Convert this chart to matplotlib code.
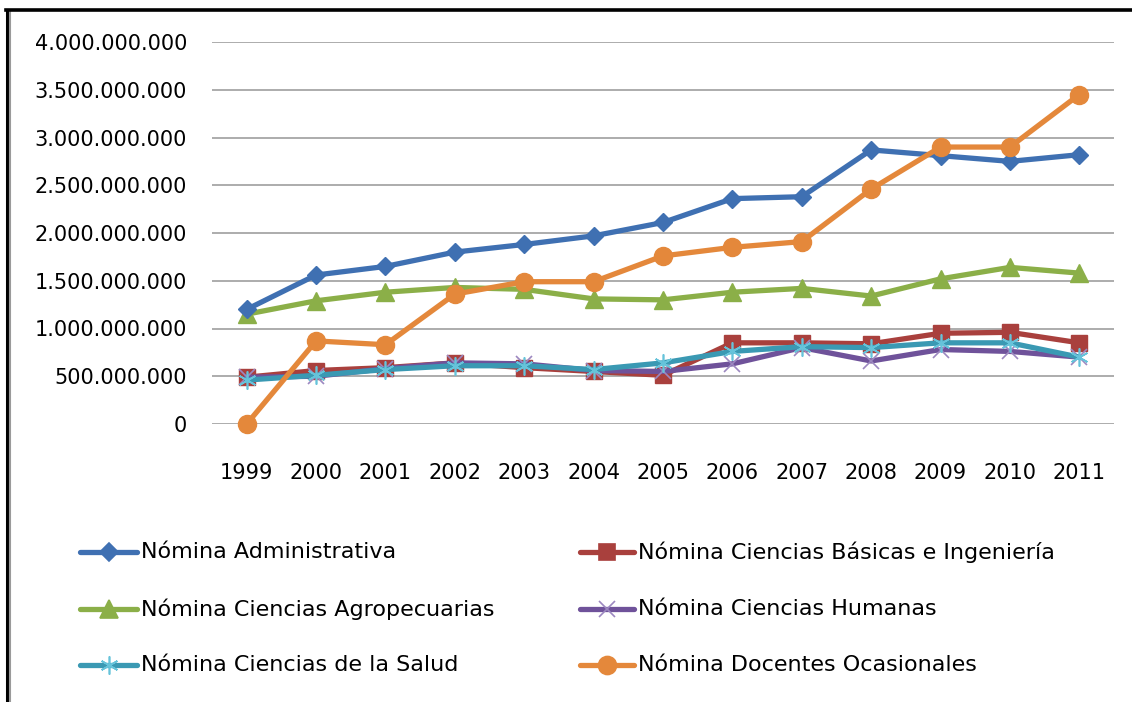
import numpy as np
import matplotlib
matplotlib.use("Agg")
import matplotlib.pyplot as plt
from matplotlib.lines import Line2D
from matplotlib.ticker import FuncFormatter

plt.rcParams['font.family'] = ['DejaVu Sans']

years = ['1999', '2000', '2001', '2002', '2003', '2004', '2005',
         '2006', '2007', '2008', '2009', '2010', '2011']

administrativa = [1.20e9, 1.56e9, 1.65e9, 1.80e9, 1.88e9, 1.97e9, 2.11e9,
                  2.36e9, 2.38e9, 2.87e9, 2.81e9, 2.75e9, 2.82e9]
basicas = [0.49e9, 0.56e9, 0.59e9, 0.64e9, 0.59e9, 0.55e9, 0.51e9,
           0.85e9, 0.85e9, 0.84e9, 0.95e9, 0.96e9, 0.85e9]
agropecuarias = [1.15e9, 1.29e9, 1.38e9, 1.43e9, 1.41e9, 1.31e9, 1.30e9,
                 1.38e9, 1.42e9, 1.34e9, 1.52e9, 1.64e9, 1.58e9]
humanas = [0.49e9, 0.50e9, 0.58e9, 0.64e9, 0.63e9, 0.56e9, 0.55e9,
           0.63e9, 0.80e9, 0.66e9, 0.78e9, 0.76e9, 0.70e9]
salud = [0.46e9, 0.51e9, 0.57e9, 0.61e9, 0.61e9, 0.57e9, 0.64e9,
         0.76e9, 0.81e9, 0.80e9, 0.85e9, 0.85e9, 0.70e9]
docentes = [0.0, 0.87e9, 0.83e9, 1.36e9, 1.49e9, 1.49e9, 1.76e9,
            1.85e9, 1.91e9, 2.46e9, 2.90e9, 2.90e9, 3.45e9]

labels = ['Nómina Administrativa', 'Nómina Ciencias Básicas e Ingeniería',
          'Nómina Ciencias Agropecuarias', 'Nómina Ciencias Humanas',
          'Nómina Ciencias de la Salud', 'Nómina Docentes Ocasionales']

W, H = 1132, 702
fig = plt.figure(figsize=(W / 100, H / 100), dpi=100)
ax = fig.add_axes([212 / W, 1 - 424 / H, (1114 - 212) / W, (424 - 42) / H])

x = np.arange(len(years))
lw = 3.8
ax.plot(x, basicas, color='#A9403D', lw=lw, marker='s', ms=11, zorder=3)
ax.plot(x, humanas, color='#6F529A', lw=lw, marker='x', ms=12, mew=1.2,
        mec='#9C88C0', zorder=4)
ax.plot(x, salud, color='#3A99B3', lw=lw, marker=(6, 2, 0), ms=13, mew=1.2,
        mec='#66C3DA', zorder=5)
ax.plot(x, agropecuarias, color='#8BAF48', lw=lw, marker='^', ms=13, zorder=3)
ax.plot(x, administrativa, color='#3F70B2', lw=lw, marker='D', ms=9, zorder=3)
ax.plot(x, docentes, color='#E4883B', lw=lw, marker='o', ms=13, zorder=6)

ax.set_xlim(-0.5, 12.5)
ax.set_ylim(0, 4e9)
ax.set_yticks(np.arange(0, 4.01e9, 5e8))
ax.yaxis.set_major_formatter(FuncFormatter(lambda v, p: f'{int(v):,}'.replace(',', '.')))
ax.set_xticks(x)
ax.set_xticklabels(years)
ax.tick_params(length=0, labelsize=15)
ax.tick_params(axis='y', pad=18)
ax.tick_params(axis='x', pad=28)
ax.grid(axis='y', color='#A6A6A6', lw=1.3)
ax.set_axisbelow(True)
for s in ax.spines.values():
    s.set_visible(False)
for ln in ax.lines:
    ln.set_clip_on(False)

# legend, drawn entry by entry so rows line up across the two columns
colors = ['#3F70B2', '#A9403D', '#8BAF48', '#6F529A', '#3A99B3', '#E4883B']
markers = ['D', 's', '^', 'x', (6, 2, 0), 'o']
msizes = [9, 11, 13, 12, 13, 13]
mecs = ['#3F70B2', '#A9403D', '#8BAF48', '#9C88C0', '#66C3DA', '#E4883B']
col_x = [(80, 137), (580, 634)]
row_y = [552, 609, 665]
for i, lab in enumerate(labels):
    c, r = i % 2, i // 2
    x0, x1 = col_x[c]
    yy = 1 - row_y[r] / H
    fig.add_artist(Line2D([x0 / W, x1 / W], [yy, yy], color=colors[i], lw=lw,
                          solid_capstyle='round', transform=fig.transFigure))
    fig.add_artist(Line2D([(x0 + x1) / 2 / W], [yy], color=colors[i], lw=0,
                          marker=markers[i], ms=msizes[i], mec=mecs[i], mew=1.2,
                          transform=fig.transFigure))
    fig.text((x1 + 4) / W, yy, lab, fontsize=16, va='center', ha='left')

# outer border
fig.add_artist(Line2D([6.5 / W, 6.5 / W], [0, 1 - 10 / H], color='black', lw=2.2,
                      transform=fig.transFigure))
fig.add_artist(Line2D([10 / W, 10 / W], [0, 1 - 12 / H], color='#9A9A9A', lw=1.5,
                      transform=fig.transFigure))
fig.add_artist(Line2D([6 / W, 1], [1 - 10 / H, 1 - 10 / H], color='black', lw=2.6,
                      transform=fig.transFigure))

fig.savefig('out.png', dpi=100)
